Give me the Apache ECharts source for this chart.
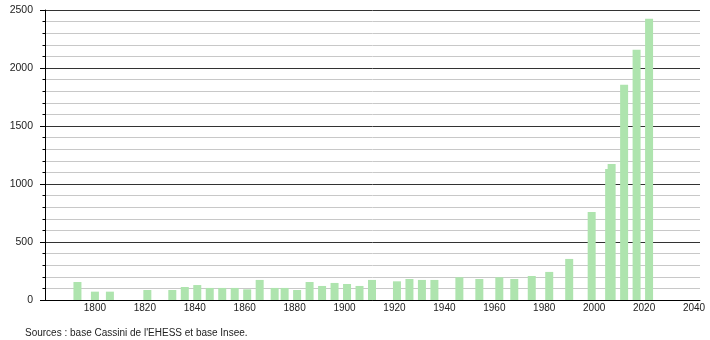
<!DOCTYPE html>
<html>
<head>
<meta charset="utf-8">
<script src="https://cdn.jsdelivr.net/npm/echarts@6/dist/echarts.min.js"></script>
<style>
html,body{margin:0;padding:0;background:#fff;}
#c{width:710px;height:340px;}
</style>
</head>
<body>
<div id="c"></div>
<script>
const years = [1793,1800,1806,1821,1831,1836,1841,1846,1851,1856,1861,1866,1872,1876,1881,1886,1891,1896,1901,1906,1911,1921,1926,1931,1936,1946,1954,1962,1968,1975,1982,1990,1999,2006,2007,2012,2017,2022];
const population = [155,72,72,86,86,112,129,104,104,104,92,173,104,104,86,155,121,147,138,121,173,161,181,173,173,196,181,196,181,207,242,354,759,1130,1173,1855,2157,2425];
const xTicks = [1800,1820,1840,1860,1880,1900,1920,1940,1960,1980,2000,2020,2040];
const yTicks = [0,500,1000,1500,2000,2500];
const sourceText = "Sources : base Cassini de l'EHESS et base Insee.";

const chart = echarts.init(document.getElementById('c'), null, {renderer:'canvas'});
const FONT = '"Liberation Sans", Arial, sans-serif';
chart.setOption({
  animation:false,
  backgroundColor:'#ffffff',
  title:{
    text: sourceText,
    left: 20, top: 323,
    textStyle:{fontSize:10, fontWeight:'normal', color:'#222', fontFamily:FONT}
  },
  grid:{left:45, right:10, top:10, bottom:40},
  xAxis:{
    type:'value',
    min:1780, max:2042.4, interval:20,
    axisLine:{show:true, lineStyle:{color:'#000', width:1}},
    axisTick:{show:false},
    splitLine:{show:false},
    axisLabel:{
      margin:3, fontSize:10, color:'#222', fontFamily:FONT,
      showMinLabel:false, showMaxLabel:false,
      formatter: v => xTicks.includes(v) ? String(v) : ''
    }
  },
  yAxis:{
    type:'value',
    min:yTicks[0], max:yTicks[yTicks.length-1], interval:500,
    axisLine:{show:true, lineStyle:{color:'#000', width:1}},
    axisTick:{show:true, length:5, lineStyle:{color:'#000'}},
    minorTick:{show:true, splitNumber:5, length:2.5, lineStyle:{color:'#000'}},
    splitLine:{show:true, lineStyle:{color:'#333', width:1}},
    minorSplitLine:{show:true, lineStyle:{color:'#c8c8c8', width:1}},
    axisLabel:{
      margin:12, fontSize:10.5, color:'#222', fontFamily:FONT,
      formatter: v => yTicks.includes(v) ? String(v) : ''
    }
  },
  series:[{
    type:'bar',
    barWidth:8,
    itemStyle:{color:'#aee4ae'},
    data: years.map((y,i)=>[y, population[i]])
  }]
});
</script>
</body>
</html>
